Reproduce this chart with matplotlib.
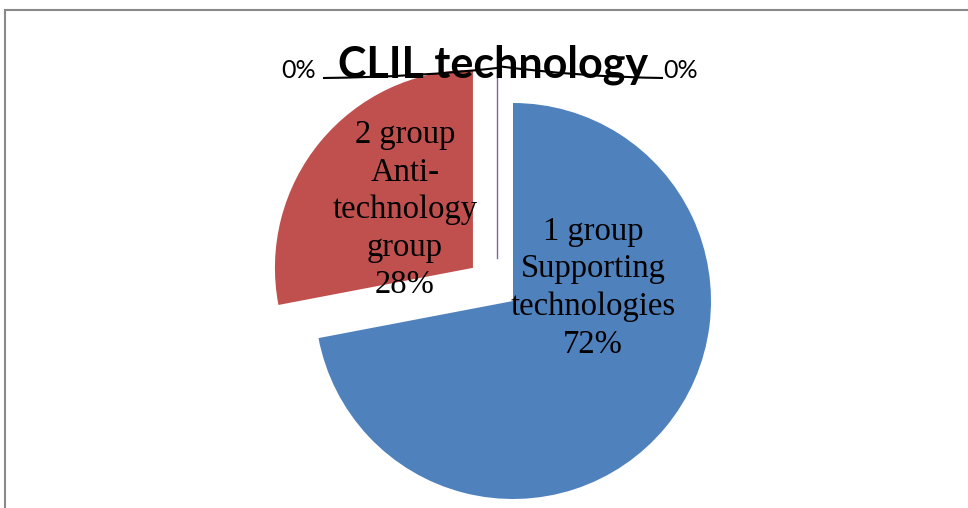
import matplotlib
matplotlib.use("Agg")
import matplotlib.pyplot as plt
import numpy as np
from matplotlib.patches import Rectangle
from matplotlib.path import Path
from matplotlib.patches import PathPatch

# ---- data ----
title = "CLIL technology"
categories = ["1 group\nSupporting\ntechnologies", "2 group\nAnti-\ntechnology\ngroup", "", ""]
values = [72, 28, 0, 0]
pct_labels = ["72%", "28%", "0%", "0%"]
colors = ["#4F81BD", "#C0504D", "#9BBB59", "#8064A2"]

W, H = 968, 508
fig = plt.figure(figsize=(W / 100, H / 100), dpi=100)
ax = fig.add_axes([0, 0, 1, 1])
ax.set_xlim(0, W)
ax.set_ylim(0, H)
ax.set_axis_off()

# chart area border
ax.add_patch(Rectangle((4.5, -5), W + 10, H - 10 + 5, fill=False, edgecolor="#898989", lw=1.5))

cx, cy = 513, H - 301
R = 198
explode = [0, 52, 0, 0]
wedges, _ = ax.pie(values, colors=colors, startangle=90, counterclock=False,
                   radius=R, center=(cx, cy), explode=explode, frame=True,
                   wedgeprops=dict(linewidth=0))
ax.set_xlim(0, W)
ax.set_ylim(0, H)
ax.set_aspect("auto")
ax.set_axis_off()

# zero-slice edge line
ax.plot([cx - 16, cx - 16], [H - 258, H - 75], color="#8064A2", lw=1)

serif = "Liberation Serif"
# labels
ax.text(cx + 80, cy + 13, categories[0] + "\n" + pct_labels[0], ha="center", va="center",
        fontsize=23.5, family=serif, linespacing=1.3)
ax.text(cx - 108, cy + 91, categories[1] + "\n" + pct_labels[1], ha="center", va="center",
        fontsize=23.5, family=serif, linespacing=1.3)

# title
ax.text(493, H - 65, title, ha="center", va="center", fontsize=31, fontweight="bold", family="Lato")

# 0% labels with leader lines
ax.text(299, H - 70, pct_labels[2], ha="center", va="center", fontsize=18, family="Lato")
ax.text(681, H - 70, pct_labels[3], ha="center", va="center", fontsize=18, family="Lato")
p1 = Path([(323, H - 78), (420, H - 77), (497, H - 68)], [Path.MOVETO, Path.CURVE3, Path.CURVE3])
p2 = Path([(663, H - 78), (580, H - 77), (497, H - 66)], [Path.MOVETO, Path.CURVE3, Path.CURVE3])
for p in (p1, p2):
    ax.add_patch(PathPatch(p, fill=False, edgecolor="black", lw=1.5, zorder=5))

fig.savefig("out.png", dpi=100)
